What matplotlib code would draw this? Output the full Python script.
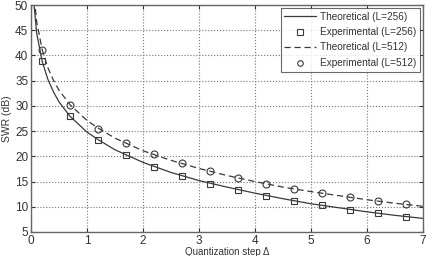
import matplotlib
matplotlib.use("Agg")
import matplotlib.pyplot as plt

plt.rcParams['font.family'] = ['Liberation Sans', 'DejaVu Sans']

# theoretical curves
x_theo = [0.05, 0.1, 0.2, 0.3, 0.4, 0.5, 0.7, 1.0, 1.2, 1.5, 2.0, 2.5, 3.0, 3.5,
          4.0, 4.5, 5.0, 5.5, 6.0, 6.5, 7.0]
swr_theo_256 = [50.5, 44.5, 38.8, 35.3, 32.8, 30.8, 27.9, 24.8, 23.3, 21.3, 18.8, 16.8,
                15.2, 13.9, 12.7, 11.6, 10.6, 9.8, 9.0, 8.3, 7.7]
swr_theo_512 = [52.5, 46.8, 41.1, 37.6, 35.1, 33.1, 30.2, 27.1, 25.6, 23.6, 21.1, 19.2,
                17.6, 16.2, 15.0, 13.9, 13.0, 12.2, 11.4, 10.7, 10.1]

# experimental points
x_exp = [0.2, 0.7, 1.2, 1.7, 2.2, 2.7, 3.2, 3.7, 4.2, 4.7, 5.2, 5.7, 6.2, 6.7]
swr_exp_256 = [38.9, 27.9, 23.3, 20.2, 17.9, 16.2, 14.6, 13.4, 12.2, 11.2, 10.3, 9.4, 8.7, 8.0]
swr_exp_512 = [41.1, 30.2, 25.5, 22.6, 20.4, 18.7, 17.0, 15.7, 14.6, 13.5, 12.7, 12.0, 11.2, 10.5]

fig = plt.figure(figsize=(4.34, 2.56), dpi=100)
ax = fig.add_axes([31/434, 1 - 232/256, 392/434, 227/256])

c = '#3a3a3a'
ax.plot(x_theo, swr_theo_256, '-', color=c, lw=0.9, label='Theoretical (L=256)')
ax.plot(x_exp, swr_exp_256, 's', mfc='none', mec=c, ms=5, mew=0.8, label='Experimental (L=256)')
ax.plot(x_theo, swr_theo_512, '--', color=c, lw=0.9, dashes=(5, 3), label='Theoretical (L=512)')
ax.plot(x_exp, swr_exp_512, 'o', mfc='none', mec=c, ms=5, mew=0.8, label='Experimental (L=512)')

ax.set_xlim(0, 7)
ax.set_ylim(5, 50)
ax.set_xticks(range(0, 8))
ax.set_yticks(range(5, 51, 5))
ax.grid(True, linestyle=':', color='#777777', lw=0.8)
ax.tick_params(direction='in', labelsize=8.5, colors='#333333', length=3, pad=2,
               top=True, right=True)
for s in ax.spines.values():
    s.set_color('#666666')
    s.set_linewidth(1.0)

ax.set_xlabel('Quantization step Δ', fontsize=7, color='#333333', labelpad=0)
ax.set_ylabel('SWR (dB)', fontsize=7.5, color='#333333', labelpad=2)

leg = ax.legend(loc='upper right', fontsize=7.2, frameon=True, fancybox=False,
                handlelength=3.2, borderpad=0.35, labelspacing=0.55, handletextpad=0.4,
                borderaxespad=0.3, markerscale=0.8)
leg.get_frame().set_edgecolor('#444444')
leg.get_frame().set_linewidth(0.8)
for t in leg.get_texts():
    t.set_color('#333333')

fig.savefig('out.png', dpi=100)
